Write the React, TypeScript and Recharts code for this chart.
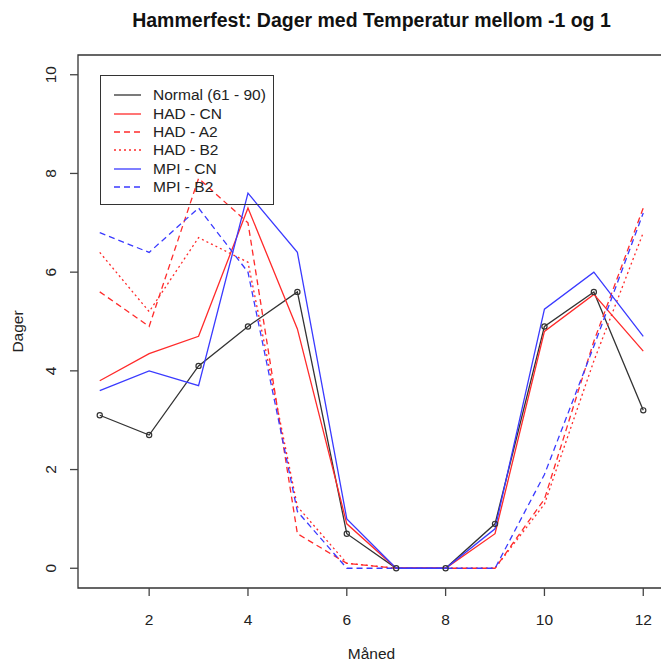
import { LineChart, Line, XAxis, YAxis, ReferenceArea, Legend } from "recharts";

const months = [1, 2, 3, 4, 5, 6, 7, 8, 9, 10, 11, 12];
const normal = [3.1, 2.7, 4.1, 4.9, 5.6, 0.7, 0, 0, 0.9, 4.9, 5.6, 3.2];
const hadCn = [3.8, 4.35, 4.7, 7.3, 4.85, 0.9, 0, 0, 0.7, 4.8, 5.55, 4.4];
const hadA2 = [5.6, 4.9, 7.9, 7.0, 0.7, 0.1, 0, 0, 0, 1.4, 4.6, 7.3];
const hadB2 = [6.4, 5.2, 6.7, 6.2, 1.25, 0.1, 0, 0, 0, 1.3, 4.2, 6.8];
const mpiCn = [3.6, 4.0, 3.7, 7.6, 6.4, 1.0, 0, 0, 0.8, 5.25, 6.0, 4.7];
const mpiB2 = [6.8, 6.4, 7.3, 6.0, 1.15, 0, 0, 0, 0, 1.9, 4.5, 7.2];

const xTicks = [2, 4, 6, 8, 10, 12];
const yTicks = [0, 2, 4, 6, 8, 10];

const series = [
  { key: "normal", name: "Normal (61 - 90)", color: "#333333", dash: undefined, values: normal },
  { key: "hadCn", name: "HAD - CN", color: "#ff2a2a", dash: undefined, values: hadCn },
  { key: "hadA2", name: "HAD - A2", color: "#ff2a2a", dash: "6 4", values: hadA2 },
  { key: "hadB2", name: "HAD - B2", color: "#ff2a2a", dash: "2 3", values: hadB2 },
  { key: "mpiCn", name: "MPI - CN", color: "#3a3aff", dash: undefined, values: mpiCn },
  { key: "mpiB2", name: "MPI - B2", color: "#3a3aff", dash: "6 4", values: mpiB2 },
];

const data = months.map((m, i) => {
  const row: any = { month: m };
  series.forEach((s) => (row[s.key] = s.values[i]));
  return row;
});

const FONT = "'Liberation Sans', Arial, sans-serif";

function XTick(props: any) {
  const { x, payload } = props;
  return (
    <g>
      <text x={x} y={625} textAnchor="middle" fontSize={15.5} fill="#222" fontFamily={FONT}>
        {payload.value}
      </text>
    </g>
  );
}

function YTick(props: any) {
  const { y, payload } = props;
  return (
    <g>
      <text
        x={50.5}
        y={y}
        transform={`rotate(-90, 50.5, ${y})`}
        textAnchor="middle"
        dominantBaseline="central"
        fontSize={15.5}
        fill="#222"
        fontFamily={FONT}
      >
        {payload.value}
      </text>
    </g>
  );
}

function LegendBox() {
  return (
    <div
      style={{
        width: 174,
        height: 130,
        boxSizing: "border-box",
        border: "1.3px solid #333",
        paddingTop: 10,
        fontFamily: FONT,
        fontSize: 15.5,
        color: "#222",
      }}
    >
      {series.map((s) => (
        <div key={s.key} style={{ height: 18.4, display: "flex", alignItems: "center" }}>
          <svg width={52} height={10} style={{ flex: "none" }}>
            <line x1={13} x2={40} y1={5} y2={5} stroke={s.color} strokeWidth={1.3} strokeDasharray={s.dash} />
          </svg>
          <span style={{ lineHeight: "18px" }}>{s.name}</span>
        </div>
      ))}
    </div>
  );
}

export default function App() {
  return (
    <div style={{ position: "absolute", left: 0, top: 0, width: 661, height: 662, overflow: "hidden", background: "#fff", fontFamily: FONT }}>
      <div
        style={{
          position: "absolute",
          left: 78,
          width: 587,
          top: 8,
          textAlign: "center",
          fontWeight: "bold",
          fontSize: 19.5,
          lineHeight: "24px",
          color: "#111",
        }}
      >
        Hammerfest: Dager med Temperatur mellom -1 og 1
      </div>
      <LineChart width={670} height={662} data={data} margin={{ top: 55, right: 5, bottom: 0, left: 0 }}>
        <XAxis
          dataKey="month"
          type="number"
          domain={[0.56, 12.44]}
          ticks={xTicks}
          allowDataOverflow
          axisLine={false}
          tickLine={{ stroke: "#444", strokeWidth: 1.3 }}
          tickSize={8}
          height={74}
          tick={<XTick />}
          label={{ value: "Måned", position: "insideBottom", offset: 3, fontSize: 15.5, fill: "#222", fontFamily: FONT }}
        />
        <YAxis
          type="number"
          domain={[-0.4, 10.4]}
          ticks={yTicks}
          allowDataOverflow
          axisLine={false}
          tickLine={{ stroke: "#444", strokeWidth: 1.3 }}
          tickSize={8}
          width={78}
          tick={<YTick />}
          label={(p: any) => {
            const vb = p.viewBox;
            const cx = 17;
            const cy = vb.y + vb.height / 2 + 10;
            return (
              <text
                x={cx}
                y={cy}
                transform={`rotate(-90, ${cx}, ${cy})`}
                textAnchor="middle"
                dominantBaseline="central"
                fontSize={15.5}
                fill="#222"
                fontFamily={FONT}
              >
                Dager
              </text>
            );
          }}
        />
        <ReferenceArea x1={0.56} x2={12.44} y1={-0.4} y2={10.4} fill="none" stroke="#333" strokeWidth={1.3} ifOverflow="visible" />
        {series.map((s) => (
          <Line
            key={s.key}
            dataKey={s.key}
            name={s.name}
            stroke={s.color}
            strokeWidth={1.3}
            strokeDasharray={s.dash}
            type="linear"
            dot={s.key === "normal" ? { r: 2.6, fill: "none", stroke: "#333", strokeWidth: 1.2 } : false}
            activeDot={false}
            isAnimationActive={false}
          />
        ))}
        <Legend
          layout="horizontal"
          verticalAlign="middle"
          align="center"
          content={() => <LegendBox />}
          wrapperStyle={{ position: "absolute", left: 100, top: 75, width: 174, height: 130 }}
        />
      </LineChart>
    </div>
  );
}
